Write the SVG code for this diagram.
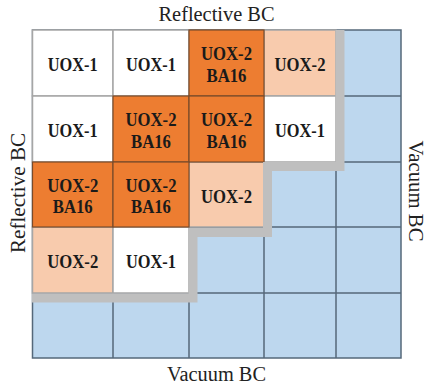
<svg xmlns="http://www.w3.org/2000/svg" width="426" height="388" viewBox="0 0 426 388">
  <style>
    .bc { font-family: "Liberation Serif", "DejaVu Serif", "Times New Roman", serif; font-size: 20px; fill: #222; text-anchor: middle; }
    .lbl { font-family: "Liberation Serif", "DejaVu Serif", "Times New Roman", serif; font-size: 18px; font-weight: bold; fill: #1a1a1a; text-anchor: middle; }
    .water { fill: #BDD7EE; stroke: none; }
    .gridline { stroke: #55687a; stroke-width: 1.5; fill: none; }
    .uox1 { fill: #FFFFFF; stroke: #A6A6A6; stroke-width: 1.5; }
    .uox2 { fill: #F8CBAD; stroke: #A6A6A6; stroke-width: 1.5; }
    .ba16 { fill: #ED7D31; stroke: #7a4b2a; stroke-width: 1.2; }
    .boundary { fill: none; stroke: #BFBFBF; stroke-width: 9; stroke-linejoin: miter; stroke-linecap: butt; }
  </style>

  <!-- boundary condition labels -->
  <text class="bc" x="216.5" y="21" textLength="116" lengthAdjust="spacingAndGlyphs">Reflective BC</text>
  <text class="bc" x="216.5" y="381" textLength="99" lengthAdjust="spacingAndGlyphs">Vacuum BC</text>
  <text class="bc" transform="translate(25,193) rotate(-90)" textLength="120" lengthAdjust="spacingAndGlyphs">Reflective BC</text>
  <text class="bc" transform="translate(409,191) rotate(90)" textLength="101" lengthAdjust="spacingAndGlyphs">Vacuum BC</text>

  <!-- reflector / water region with its lattice -->
  <g id="water-lattice">
    <rect class="water" x="32.5" y="30" width="368.5" height="328"/>
    <path class="gridline" d="M113,30V358M189,30V358M264,30V358M336,30V358M32.5,96H401M32.5,162H401M32.5,227H401M32.5,293H401"/>
    <rect class="gridline" x="32.5" y="30" width="368.5" height="328"/>
  </g>

  <!-- row 0 -->
  <g id="a1"><rect class="uox1" x="32.5" y="30" width="80.5" height="66"/><text class="lbl" x="72.75" y="71" textLength="50" lengthAdjust="spacingAndGlyphs">UOX-1</text></g>
  <g id="a2"><rect class="uox1" x="113" y="30" width="76" height="66"/><text class="lbl" x="151" y="71" textLength="50" lengthAdjust="spacingAndGlyphs">UOX-1</text></g>
  <g id="a4"><rect class="uox2" x="264" y="30" width="72" height="66"/><text class="lbl" x="300" y="71" textLength="51" lengthAdjust="spacingAndGlyphs">UOX-2</text></g>

  <!-- row 1 -->
  <g id="b1"><rect class="uox1" x="32.5" y="96" width="80.5" height="66"/><text class="lbl" x="72.75" y="137" textLength="50" lengthAdjust="spacingAndGlyphs">UOX-1</text></g>
  <g id="b4"><rect class="uox1" x="264" y="96" width="72" height="66"/><text class="lbl" x="300" y="137" textLength="50" lengthAdjust="spacingAndGlyphs">UOX-1</text></g>

  <!-- row 2 -->
  <g id="c3"><rect class="uox2" x="189" y="162" width="75" height="65"/><text class="lbl" x="226.5" y="202.5" textLength="51" lengthAdjust="spacingAndGlyphs">UOX-2</text></g>

  <!-- row 3 -->
  <g id="d1"><rect class="uox2" x="32.5" y="227" width="80.5" height="66"/><text class="lbl" x="72.75" y="268" textLength="51" lengthAdjust="spacingAndGlyphs">UOX-2</text></g>
  <g id="d2"><rect class="uox1" x="113" y="227" width="76" height="66"/><text class="lbl" x="151" y="268" textLength="50" lengthAdjust="spacingAndGlyphs">UOX-1</text></g>

  <!-- burnable-absorber assemblies -->
  <g id="a3"><rect class="ba16" x="189" y="30" width="75" height="66"/><text class="lbl" x="226.5" y="60" textLength="51" lengthAdjust="spacingAndGlyphs">UOX-2</text><text class="lbl" x="226.5" y="81.5" textLength="40" lengthAdjust="spacingAndGlyphs">BA16</text></g>
  <g id="b2"><rect class="ba16" x="113" y="96" width="76" height="66"/><text class="lbl" x="151" y="126" textLength="51" lengthAdjust="spacingAndGlyphs">UOX-2</text><text class="lbl" x="151" y="147.5" textLength="40" lengthAdjust="spacingAndGlyphs">BA16</text></g>
  <g id="b3"><rect class="ba16" x="189" y="96" width="75" height="66"/><text class="lbl" x="226.5" y="126" textLength="51" lengthAdjust="spacingAndGlyphs">UOX-2</text><text class="lbl" x="226.5" y="147.5" textLength="40" lengthAdjust="spacingAndGlyphs">BA16</text></g>
  <g id="c1"><rect class="ba16" x="32.5" y="162" width="80.5" height="65"/><text class="lbl" x="72.75" y="191.5" textLength="51" lengthAdjust="spacingAndGlyphs">UOX-2</text><text class="lbl" x="72.75" y="213" textLength="40" lengthAdjust="spacingAndGlyphs">BA16</text></g>
  <g id="c2"><rect class="ba16" x="113" y="162" width="76" height="65"/><text class="lbl" x="151" y="191.5" textLength="51" lengthAdjust="spacingAndGlyphs">UOX-2</text><text class="lbl" x="151" y="213" textLength="40" lengthAdjust="spacingAndGlyphs">BA16</text></g>

  <!-- core / reflector boundary -->
  <g id="core-boundary">
    <path class="boundary" d="M340,30V166.5H267.5V232.5H193V298H32"/>
  </g>
</svg>
